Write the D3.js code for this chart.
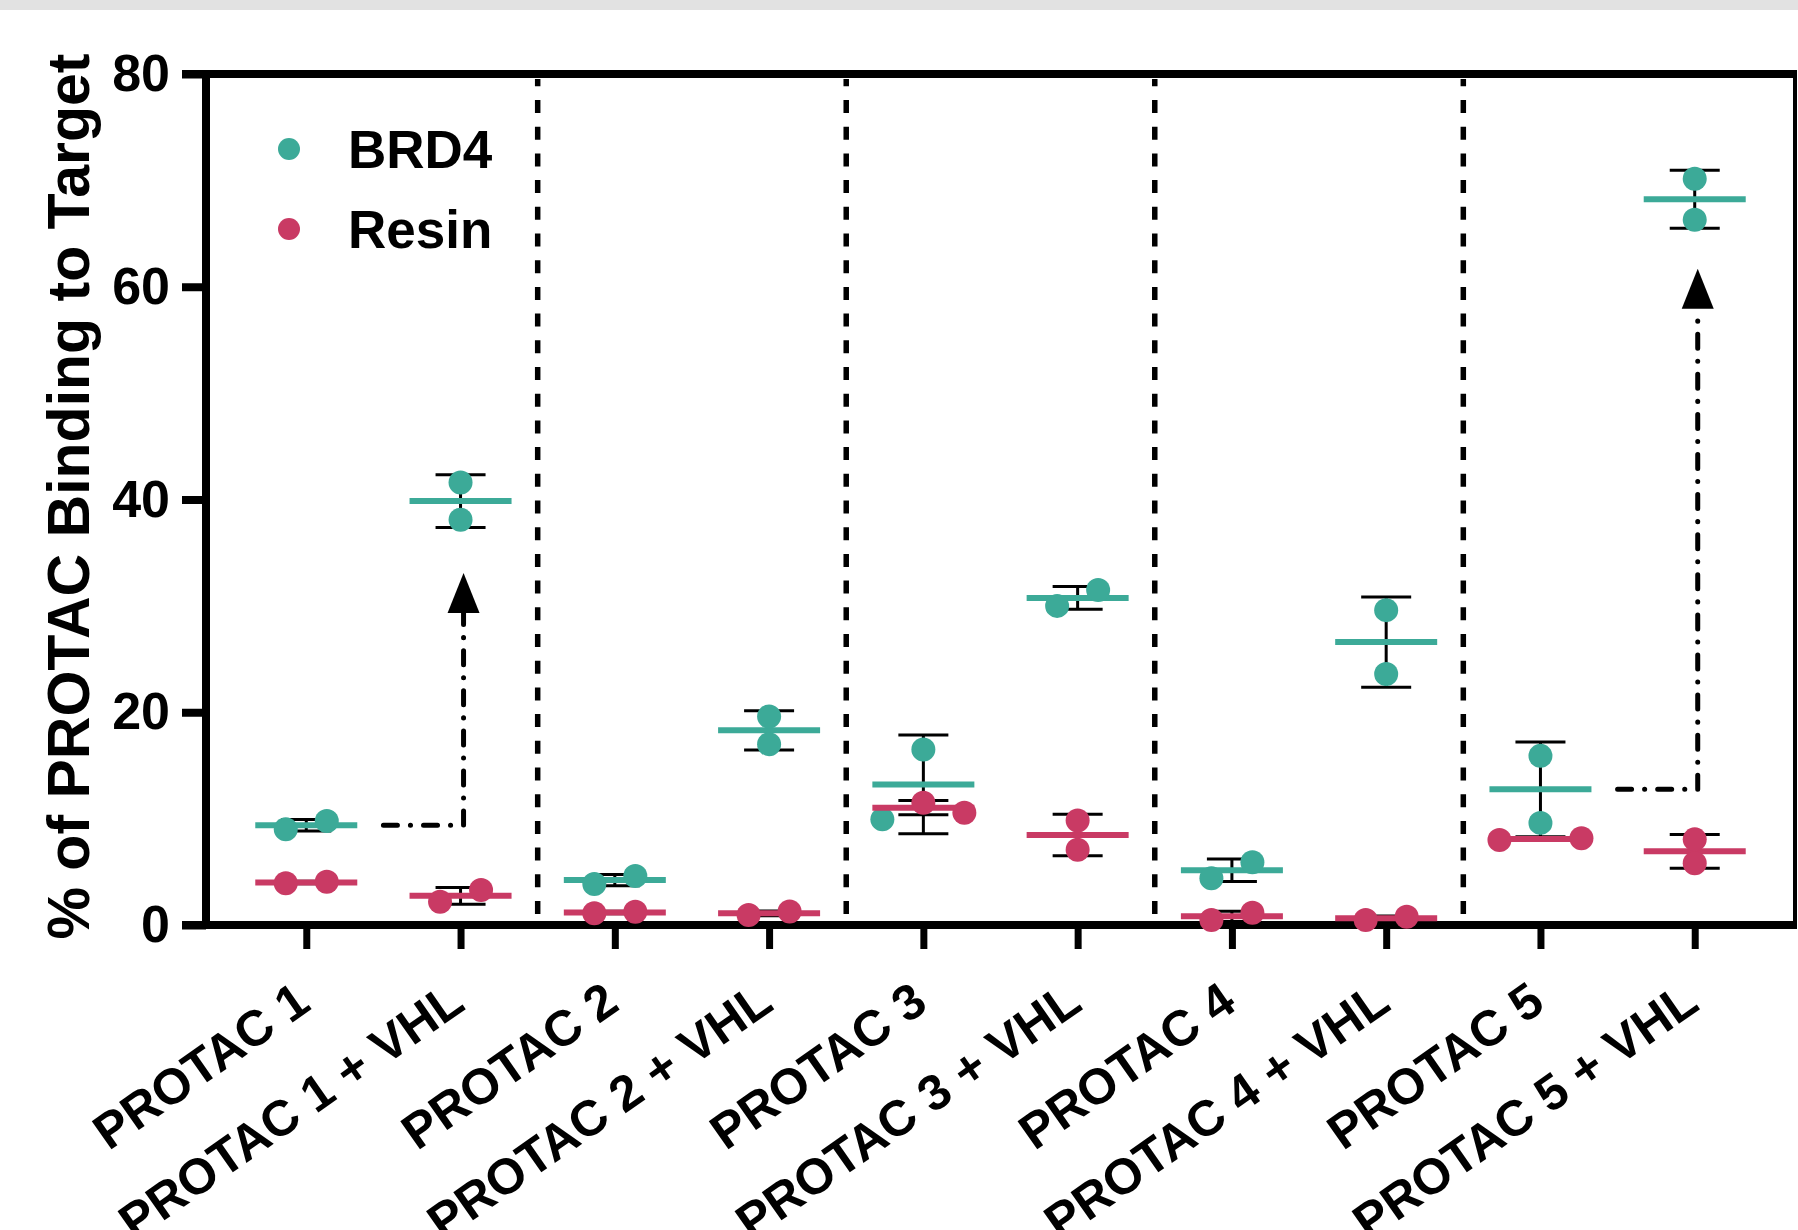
<!DOCTYPE html>
<html>
<head>
<meta charset="utf-8">
<script src="https://cdn.jsdelivr.net/npm/d3@7"></script>
<style>
  body { margin: 0; background: #fff; }
  text { font-family: "Liberation Sans", Arial, sans-serif; font-weight: bold; }
</style>
</head>
<body>
<script>
const categories = [
  "PROTAC 1", "PROTAC 1 + VHL",
  "PROTAC 2", "PROTAC 2 + VHL",
  "PROTAC 3", "PROTAC 3 + VHL",
  "PROTAC 4", "PROTAC 4 + VHL",
  "PROTAC 5", "PROTAC 5 + VHL"
];

// two replicates per condition
const brd4Values = [
  [9.0, 9.77], [41.6, 38.1],
  [3.85, 4.6], [19.6, 17.0],
  [16.5, 9.93], [30.0, 31.5],
  [4.4, 5.9], [29.6, 23.6],
  [15.9, 9.6], [70.15, 66.3]
];
const resinValues = [
  [3.92, 4.07], [2.19, 3.29],
  [1.1, 1.25], [0.94, 1.26],
  [11.5, 10.55], [9.83, 7.07],
  [0.47, 1.16], [0.47, 0.78],
  [8.0, 8.15], [8.05, 5.8]
];

const seriesNames = ["BRD4", "Resin"];
const seriesColors = ["#3caa98", "#c93a64"];
const yTicks = [0, 20, 40, 60, 80];

// dash-dot arrows: from the BRD4 mean of one condition up to its + VHL partner
const arrowFrom = [0, 8];
const arrowTo = [1, 9];
const arrowTop = [33.1, 61.7];

const width = 1798, height = 1230;
const svg = d3.select('body').append('svg')
  .attr('width', width).attr('height', height);

svg.append('rect').attr('width', width).attr('height', 10).attr('fill', '#e2e2e2');

const x = d3.scalePoint().domain(categories).range([206, 1795]).padding(0.65);
const y = d3.scaleLinear().domain([0, 80]).range([925, 74]);

const mean = a => d3.mean(a);
const sd = a => d3.deviation(a);

const series = seriesNames.map((name, i) => ({
  name, color: seriesColors[i],
  values: [brd4Values, resinValues][i]
}));

// separators between compounds
const sepX = categories.slice(0, -1)
  .map((c, i) => i)
  .filter(i => i % 2 === 1)
  .map(i => (x(categories[i]) + x(categories[i + 1])) / 2);

svg.append('g').selectAll('line').data(sepX).join('line')
  .attr('x1', d => d).attr('x2', d => d)
  .attr('y1', y(0) - 11).attr('y2', y(80) + 5)
  .attr('stroke', '#000').attr('stroke-width', 5.5)
  .attr('stroke-dasharray', '13 13.7');

// axes
const yAxisG = svg.append('g')
  .attr('transform', `translate(${x.range()[0]},0)`)
  .call(d3.axisLeft(y).tickValues(yTicks).tickSize(24).tickSizeOuter(0).tickPadding(12));
yAxisG.select('.domain').remove();
yAxisG.selectAll('line').attr('stroke-width', 8);
yAxisG.selectAll('text').attr('font-size', 52).attr('fill', '#000');

const xAxisG = svg.append('g')
  .attr('transform', `translate(0,${y(0)})`)
  .call(d3.axisBottom(x).tickSize(24).tickSizeOuter(0));
xAxisG.select('.domain').remove();
xAxisG.selectAll('line').attr('stroke-width', 7);
xAxisG.selectAll('text')
  .attr('y', 0).attr('x', 0).attr('dy', '0.35em')
  .attr('text-anchor', 'end')
  .attr('font-size', 50).attr('fill', '#000')
  .attr('transform', 'translate(-4,69) rotate(-35)');

// frame
const [xl, xr] = x.range();
const frame = svg.append('g').attr('stroke', '#000').attr('fill', 'none');
frame.append('line').attr('x1', xl).attr('x2', xl).attr('y1', y(80) - 4).attr('y2', y(0) + 4).attr('stroke-width', 8);
frame.append('line').attr('x1', xl - 24).attr('x2', xr + 2).attr('y1', y(0)).attr('y2', y(0)).attr('stroke-width', 8);
frame.append('line').attr('x1', xl - 24).attr('x2', xr + 2).attr('y1', y(80)).attr('y2', y(80)).attr('stroke-width', 8);
frame.append('line').attr('x1', xr).attr('x2', xr).attr('y1', y(80)).attr('y2', y(0)).attr('stroke-width', 4);

// axis title
svg.append('text')
  .attr('transform', `translate(89,${(y(0) + y(80)) / 2 - 3}) rotate(-90)`)
  .attr('text-anchor', 'middle')
  .attr('font-size', 59)
  .text('% of PROTAC Binding to Target');

// scatter layout: points that overlap vertically in a column are spread sideways
const r = 12, step = 41;
const points = [];
categories.forEach((cat, ci) => {
  const pts = [];
  series.forEach(s => s.values[ci].forEach(v => pts.push({ s, v, cat })));
  pts.sort((a, b) => b.v - a.v);
  const clusters = [];
  pts.forEach(p => {
    const last = clusters[clusters.length - 1];
    if (last && y(p.v) - y(last[last.length - 1].v) < 22) last.push(p);
    else clusters.push([p]);
  });
  clusters.forEach(cl => {
    const n = cl.length;
    cl.forEach((p, k) => {
      let off;
      if (n % 2) off = k === 0 ? 0 : Math.ceil(k / 2) * (k % 2 ? 1 : -1);
      else off = (Math.floor(k / 2) + 0.5) * (k % 2 ? -1 : 1);
      p.dx = off * step;
      points.push(p);
    });
  });
});

// arrows
const arrows = arrowFrom.map((f, i) => ({
  x0: (x(categories[f]) + x(categories[arrowTo[i]])) / 2,
  x1: x(categories[arrowTo[i]]),
  yv: mean(brd4Values[f]),
  top: arrowTop[i]
}));
const arrowG = svg.append('g');
arrowG.selectAll('path.link').data(arrows).join('path')
  .attr('class', 'link')
  .attr('d', d => `M${d.x0},${y(d.yv)}H${d.x1 + 3}V${y(d.top) + 40}`)
  .attr('fill', 'none').attr('stroke', '#000').attr('stroke-width', 5)
  .attr('stroke-linecap', 'round')
  .attr('stroke-dasharray', '14 13 0.1 13');
arrowG.selectAll('path.head').data(arrows).join('path')
  .attr('class', 'head')
  .attr('d', d => `M${d.x1 + 3},${y(d.top)}L${d.x1 + 19},${y(d.top) + 40}L${d.x1 - 13},${y(d.top) + 40}Z`)
  .attr('fill', '#000');

// series marks
series.forEach(s => {
  const g = svg.append('g');
  const stats = categories.map((cat, ci) => ({
    cat, m: mean(s.values[ci]), e: sd(s.values[ci])
  }));
  g.selectAll('path.err').data(stats).join('path')
    .attr('class', 'err')
    .attr('d', d => {
      const cx = x(d.cat), t = y(d.m + d.e), b = y(d.m - d.e);
      return `M${cx - 25},${t}H${cx + 25}M${cx},${t}V${b}M${cx - 25},${b}H${cx + 25}`;
    })
    .attr('stroke', '#000').attr('stroke-width', 3).attr('fill', 'none');
  g.selectAll('line.mean').data(stats).join('line')
    .attr('class', 'mean')
    .attr('x1', d => x(d.cat) - 51).attr('x2', d => x(d.cat) + 51)
    .attr('y1', d => y(d.m)).attr('y2', d => y(d.m))
    .attr('stroke', s.color).attr('stroke-width', 6);
  g.selectAll('circle').data(points.filter(p => p.s === s)).join('circle')
    .attr('cx', d => x(d.cat) + d.dx)
    .attr('cy', d => y(d.v))
    .attr('r', r)
    .attr('fill', s.color);
});

// legend
const legend = svg.append('g').selectAll('g').data(series).join('g')
  .attr('transform', (d, i) => `translate(289,${149 + i * 80})`);
legend.append('circle').attr('r', 11).attr('fill', d => d.color);
legend.append('text').attr('x', 59).attr('y', 19).attr('font-size', 53).text(d => d.name);
</script>
</body>
</html>
